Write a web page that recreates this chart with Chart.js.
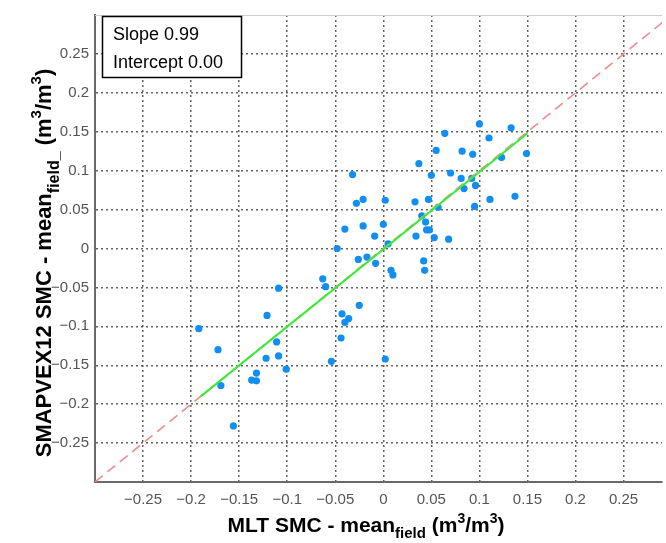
<!DOCTYPE html>
<html>
<head>
<meta charset="utf-8">
<script src="https://cdn.jsdelivr.net/npm/chart.js@4.4.0/dist/chart.umd.min.js"></script>
<style>
    html, body { margin: 0; padding: 0; background: #fff; }
    #wrap { width: 666px; height: 543px; }
</style>
</head>
<body>
<div id="wrap"><canvas id="chart" width="666" height="543"></canvas></div>
<script>
// MLT SMC - mean (x) vs SMAPVEX12 SMC - mean (y)
const mltX = [
    0.100, 0.133, 0.064, 0.110, 0.055, 0.082, 0.093, 0.149, 0.123, 0.037,
    -0.032, 0.050, 0.070, 0.081, 0.092, 0.084, 0.096, -0.028, -0.021, 0.002,
    0.033, 0.047, 0.057, 0.095, 0.111, 0.137, 0.040, 0.044, -0.040, -0.021,
    0.000, 0.045, 0.048, -0.009, 0.034, 0.053, 0.068, -0.048, 0.005, -0.026,
    -0.017, -0.008, 0.042, 0.008, 0.043, 0.010, -0.063, -0.060, -0.109, -0.121,
    -0.025, -0.043, -0.036, -0.040, -0.192, -0.111, -0.044, -0.172, -0.122, -0.109,
    -0.054, 0.002, -0.101, -0.132, -0.137, -0.132, -0.169, -0.156
];
const smapY = [
    0.160, 0.155, 0.148, 0.142, 0.126, 0.125, 0.121, 0.122, 0.117, 0.109,
    0.095, 0.094, 0.097, 0.090, 0.090, 0.077, 0.081, 0.058, 0.063, 0.062,
    0.060, 0.063, 0.053, 0.054, 0.063, 0.067, 0.042, 0.034, 0.025, 0.029,
    0.031, 0.024, 0.024, 0.016, 0.016, 0.014, 0.012, 0.000, 0.006, -0.014,
    -0.011, -0.019, -0.016, -0.028, -0.028, -0.034, -0.039, -0.049, -0.051, -0.086,
    -0.073, -0.084, -0.090, -0.095, -0.103, -0.120, -0.115, -0.130, -0.141, -0.138,
    -0.145, -0.142, -0.155, -0.160, -0.169, -0.170, -0.176, -0.228
];

// 1:1 reference line and fitted line end points
const oneToOneX = [-0.3, 0.3];
const oneToOneY = [-0.3, 0.3];
const fitX = [-0.19, 0.15];
const fitY = [-0.19, 0.148];

const tickValues = [-0.25, -0.2, -0.15, -0.1, -0.05, 0, 0.05, 0.1, 0.15, 0.2, 0.25];
const tickLabels = ['\u22120.25', '\u22120.2', '\u22120.15', '\u22120.1', '\u22120.05', '0', '0.05', '0.1', '0.15', '0.2', '0.25'];

const statsLines = ['Slope 0.99', 'Intercept 0.00'];

const FONT = '"Liberation Sans", Arial, Helvetica, sans-serif';

const toPoints = (xs, ys) => xs.map((x, i) => ({ x: x, y: ys[i] }));

// text with sub/superscripts, centred on (cx, cy)
function drawRich(ctx, parts, cx, cy, angle) {
    ctx.save();
    ctx.translate(cx, cy);
    ctx.rotate(angle);
    let total = 0;
    parts.forEach(p => {
        ctx.font = 'bold ' + p.size + 'px ' + FONT;
        p.w = ctx.measureText(p.t).width;
        total += p.w;
    });
    let x = -total / 2;
    ctx.fillStyle = '#000';
    ctx.textBaseline = 'alphabetic';
    ctx.textAlign = 'left';
    parts.forEach(p => {
        ctx.font = 'bold ' + p.size + 'px ' + FONT;
        ctx.fillText(p.t, x, p.dy);
        x += p.w;
    });
    ctx.restore();
}

const decorations = {
    id: 'decorations',
    afterDraw(chart) {
        const ctx = chart.ctx;
        const area = chart.chartArea;

        // light top frame line
        ctx.save();
        ctx.setLineDash([]);
        ctx.strokeStyle = '#cfcfcf';
        ctx.lineWidth = 1;
        ctx.beginPath();
        ctx.moveTo(area.left, area.top + 0.5);
        ctx.lineTo(area.right, area.top + 0.5);
        ctx.stroke();

        // stats box
        ctx.fillStyle = '#fff';
        ctx.fillRect(102, 16, 139, 61);
        ctx.strokeStyle = '#000';
        ctx.lineWidth = 1.5;
        ctx.strokeRect(102.5, 16.5, 139, 61);
        ctx.fillStyle = '#000';
        ctx.font = '18px ' + FONT;
        ctx.textBaseline = 'alphabetic';
        ctx.fillText(statsLines[0], 113, 40);
        ctx.fillText(statsLines[1], 113, 68);
        ctx.restore();

        // axis titles
        drawRich(ctx, [
            { t: 'MLT SMC - mean', size: 21, dy: 0 },
            { t: 'field', size: 15, dy: 6 },
            { t: ' (m', size: 21, dy: 0 },
            { t: '3', size: 14, dy: -9 },
            { t: '/m', size: 21, dy: 0 },
            { t: '3', size: 14, dy: -9 },
            { t: ')', size: 21, dy: 0 }
        ], 366, 532, 0);

        drawRich(ctx, [
            { t: 'SMAPVEX12 SMC - mean', size: 22, dy: 0 },
            { t: 'field_', size: 16, dy: 8 },
            { t: ' (m', size: 22, dy: 0 },
            { t: '3', size: 15, dy: -10 },
            { t: '/m', size: 22, dy: 0 },
            { t: '3', size: 15, dy: -10 },
            { t: ')', size: 22, dy: 0 }
        ], 51, 263, -Math.PI / 2);
    }
};

const gridStyle = {
    color: 'rgba(70,70,70,0.85)',
    lineWidth: 1.5,
    drawTicks: false
};
const borderStyle = { display: true, color: '#6a6a6a', width: 2, dash: [2, 3] };

new Chart(document.getElementById('chart'), {
    type: 'scatter',
    data: {
        datasets: [
            {
                type: 'line',
                data: toPoints(fitX, fitY),
                borderColor: '#36ee36',
                borderWidth: 2,
                pointRadius: 0,
                order: 1
            },
            {
                type: 'line',
                data: toPoints(oneToOneX, oneToOneY),
                borderColor: '#f28b8b',
                borderWidth: 1.6,
                borderDash: [10, 6],
                pointRadius: 0,
                order: 2
            },
            {
                data: toPoints(mltX, smapY),
                backgroundColor: '#118ef2',
                borderWidth: 0,
                pointRadius: 3.6,
                order: 3
            }
        ]
    },
    options: {
        responsive: false,
        animation: false,
        devicePixelRatio: 1,
        layout: { padding: { top: 10, right: 0, left: 0, bottom: 0 } },
        plugins: {
            legend: { display: false },
            tooltip: { enabled: false }
        },
        scales: {
            x: {
                type: 'linear',
                min: -0.3,
                max: 0.29,
                afterBuildTicks: s => { s.ticks = tickValues.map(v => ({ value: v })); },
                afterFit: s => { s.height = 61; },
                ticks: {
                    callback: (v, i) => tickLabels[i],
                    font: { family: FONT, size: 15 },
                    color: '#555',
                    padding: 9,
                    maxRotation: 0
                },
                grid: gridStyle,
                border: borderStyle
            },
            y: {
                type: 'linear',
                min: -0.3,
                max: 0.3,
                afterBuildTicks: s => { s.ticks = tickValues.map(v => ({ value: v })); },
                afterFit: s => { s.width = 95; },
                ticks: {
                    callback: (v, i) => tickLabels[i],
                    font: { family: FONT, size: 15 },
                    color: '#555',
                    padding: 6
                },
                grid: gridStyle,
                border: borderStyle
            }
        }
    },
    plugins: [decorations]
});
</script>
</body>
</html>
